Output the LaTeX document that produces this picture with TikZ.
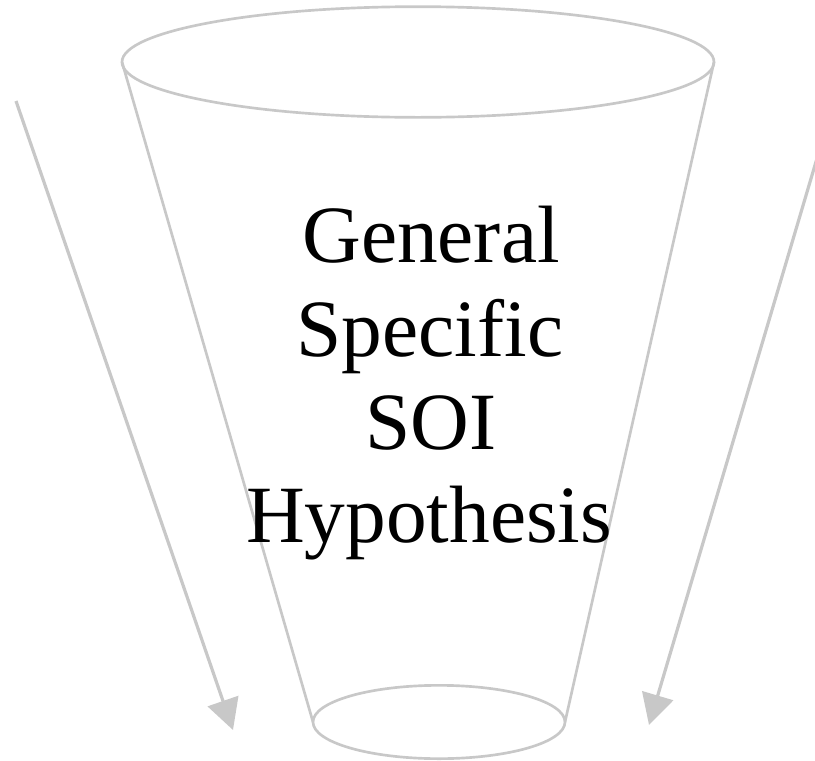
\documentclass[tikz,border=0pt]{standalone}
\usepackage{fontspec}
\setmainfont{Liberation Serif}
\usetikzlibrary{arrows.meta,shapes.geometric}
\definecolor{funnelgray}{RGB}{200,200,200}

\begin{document}
\begin{tikzpicture}[
    x=0.75pt, y=-0.75pt,
    rim/.style={draw=funnelgray, line width=2pt, ellipse, inner sep=0pt, outer sep=0pt},
    side/.style={draw=funnelgray, line width=2pt},
    flowarrow/.style={draw=funnelgray, line width=2.4pt, -{Triangle[length=23pt, width=24pt, fill=funnelgray]}},
    word/.style={font=\fontsize{61}{73}\selectfont, inner sep=0pt, anchor=base}
]
\useasboundingbox (0,0) rectangle (815,761);
% funnel
\node[rim, minimum width=444pt, minimum height=83pt] (mouth) at (418,62) {};
\node[rim, minimum width=189pt, minimum height=55pt] (neck) at (439,722) {};
\draw[side] (mouth.west) -- (neck.west);
\draw[side] (mouth.east) -- (neck.east);
% arrows
\coordinate (lefttop) at (16,101);
\coordinate (lefttip) at (233,730);
\coordinate (righttop) at (818,155);
\coordinate (righttip) at (649,725);
\draw[flowarrow] (lefttop) -- (lefttip);
\draw[flowarrow] (righttop) -- (righttip);
% labels
\node[word] (general) at (431,262) {General};
\node[word] (specific) at (430,356) {Specific};
\node[word] (soi) at (431,449) {SOI};
\node[word] (hypothesis) at (429,542) {Hypothesis};
\end{tikzpicture}
\end{document}
